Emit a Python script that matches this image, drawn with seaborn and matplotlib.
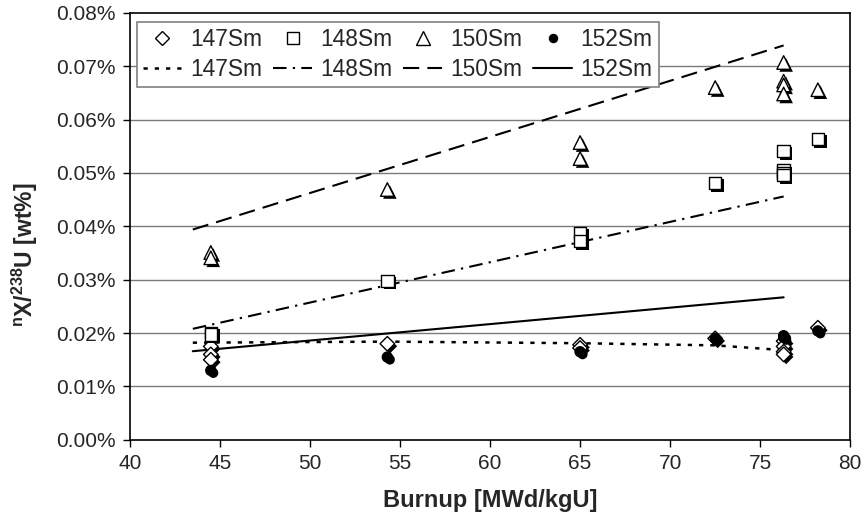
import matplotlib
matplotlib.use("Agg")
import matplotlib.pyplot as plt
import matplotlib.patheffects as pe
from matplotlib.lines import Line2D
import seaborn as sns

# burnup positions [MWd/kgU] and measured ratios [wt%]
x147 = [44.5, 44.5, 44.5, 54.3, 65.0, 65.0, 72.5, 76.3, 76.3, 76.3, 76.3, 78.2]
y147 = [0.0175, 0.0160, 0.0150, 0.0180, 0.0178, 0.0172, 0.0190, 0.0185, 0.0175, 0.0165, 0.0160, 0.0210]

x148 = [44.5, 44.5, 54.3, 65.0, 65.0, 72.5, 76.3, 76.3, 76.3, 76.3, 78.2]
y148 = [0.0200, 0.0197, 0.0298, 0.0388, 0.0372, 0.0481, 0.0541, 0.0505, 0.0500, 0.0496, 0.0564]

x150 = [44.5, 44.5, 54.3, 65.0, 65.0, 72.5, 76.3, 76.3, 76.3, 76.3, 78.2]
y150 = [0.0351, 0.0341, 0.0469, 0.0557, 0.0527, 0.0660, 0.0707, 0.0672, 0.0665, 0.0648, 0.0656]

x152 = [44.5, 54.3, 65.0, 72.5, 76.3, 76.3, 78.2]
y152 = [0.0130, 0.0155, 0.0165, 0.0190, 0.0195, 0.0192, 0.0204]

# calculated curves
fx147 = [43.5, 54.3, 65.0, 72.5, 76.3]
fy147 = [0.0182, 0.0184, 0.0181, 0.0177, 0.0168]
fx148 = [43.5, 76.3]
fy148 = [0.0208, 0.0456]
fx150 = [43.5, 76.3]
fy150 = [0.0394, 0.0739]
fx152 = [43.5, 76.3]
fy152 = [0.0166, 0.0267]

labels = ['147Sm', '148Sm', '150Sm', '152Sm']
yticks = [0.00, 0.01, 0.02, 0.03, 0.04, 0.05, 0.06, 0.07, 0.08]
xticks = [40, 45, 50, 55, 60, 65, 70, 75, 80]

sns.set_style("white")
plt.rcParams['font.family'] = ['Liberation Sans', 'DejaVu Sans']
plt.rcParams['mathtext.fontset'] = 'custom'
plt.rcParams['mathtext.rm'] = 'Liberation Sans'
plt.rcParams['mathtext.bf'] = 'Liberation Sans:bold'
plt.rcParams['mathtext.default'] = 'bf'

fig, ax = plt.subplots(figsize=(8.65, 5.15), dpi=100)
fig.subplots_adjust(left=0.150, right=0.983, top=0.975, bottom=0.146)

for y in yticks[1:-1]:
    ax.axhline(y, color='#7a7a7a', lw=1.0, zorder=0)

styles = [(0, (1.7, 2.8)), (0, (6.5, 3.0, 1.1, 3.0)), (0, (7.8, 3.9)), '-']
widths = [1.8, 1.5, 1.5, 1.5]
fits = [(fx147, fy147), (fx148, fy148), (fx150, fy150), (fx152, fy152)]
for (fx, fy), ls, lw in zip(fits, styles, widths):
    sns.lineplot(x=fx, y=fy, ax=ax, color='black', lw=lw, linestyle=ls, zorder=2)

shadow = [pe.SimplePatchShadow(offset=(1.8, -1.8), shadow_rgbFace='black', alpha=1.0), pe.Normal()]
markers = ['D', 's', '^', 'o']
sizes = [55, 80, 95, 52]
faces = ['white', 'white', 'white', 'black']
points = [(x147, y147), (x148, y148), (x150, y150), (x152, y152)]
for (px, py), m, s, fc in zip(points, markers, sizes, faces):
    sns.scatterplot(x=px, y=py, ax=ax, marker=m, s=s, facecolor=fc,
                    edgecolor='black', linewidth=1.0, zorder=3)
    ax.collections[-1].set_path_effects(shadow)

ax.set_xlim(40, 80)
ax.set_ylim(0, 0.08)
ax.set_xticks(xticks)
ax.set_yticks(yticks)
ax.set_yticklabels([f'{v:.2f}%' for v in yticks])
ax.tick_params(axis='both', direction='out', length=5, width=1, labelsize=15,
               color='black', pad=5, bottom=True, left=True)
for sp in ax.spines.values():
    sp.set_color('black')
    sp.set_linewidth(1.2)

ax.set_xlabel('Burnup [MWd/kgU]', fontsize=17, fontweight='bold')
ax.set_ylabel(r'$^{n}$X/$^{238}$U [wt%]', fontsize=16.5, fontweight='bold')
ax.yaxis.set_label_coords(-0.124, 0.433)
ax.xaxis.set_label_coords(0.5, -0.115)

handles = []
for i in range(4):
    handles.append(Line2D([], [], marker=markers[i], ls='none', markersize=[7, 9, 10, 5.8][i],
                          markerfacecolor=faces[i], markeredgecolor='black', markeredgewidth=1.0))
    handles.append(Line2D([], [], color='black', lw=widths[i], linestyle=styles[i]))
leg_labels = []
for lab in labels:
    leg_labels += [lab, lab]

leg = ax.legend(handles, leg_labels, ncol=4, loc='upper left', bbox_to_anchor=(0.0097, 0.979),
                borderaxespad=0, fontsize=16.4, handlelength=1.7, handletextpad=0.35,
                columnspacing=0.5, labelspacing=0.3, borderpad=0.28, fancybox=False,
                framealpha=1, edgecolor='#808080')
leg.get_frame().set_linewidth(1.2)

fig.savefig("out.png", dpi=100)
